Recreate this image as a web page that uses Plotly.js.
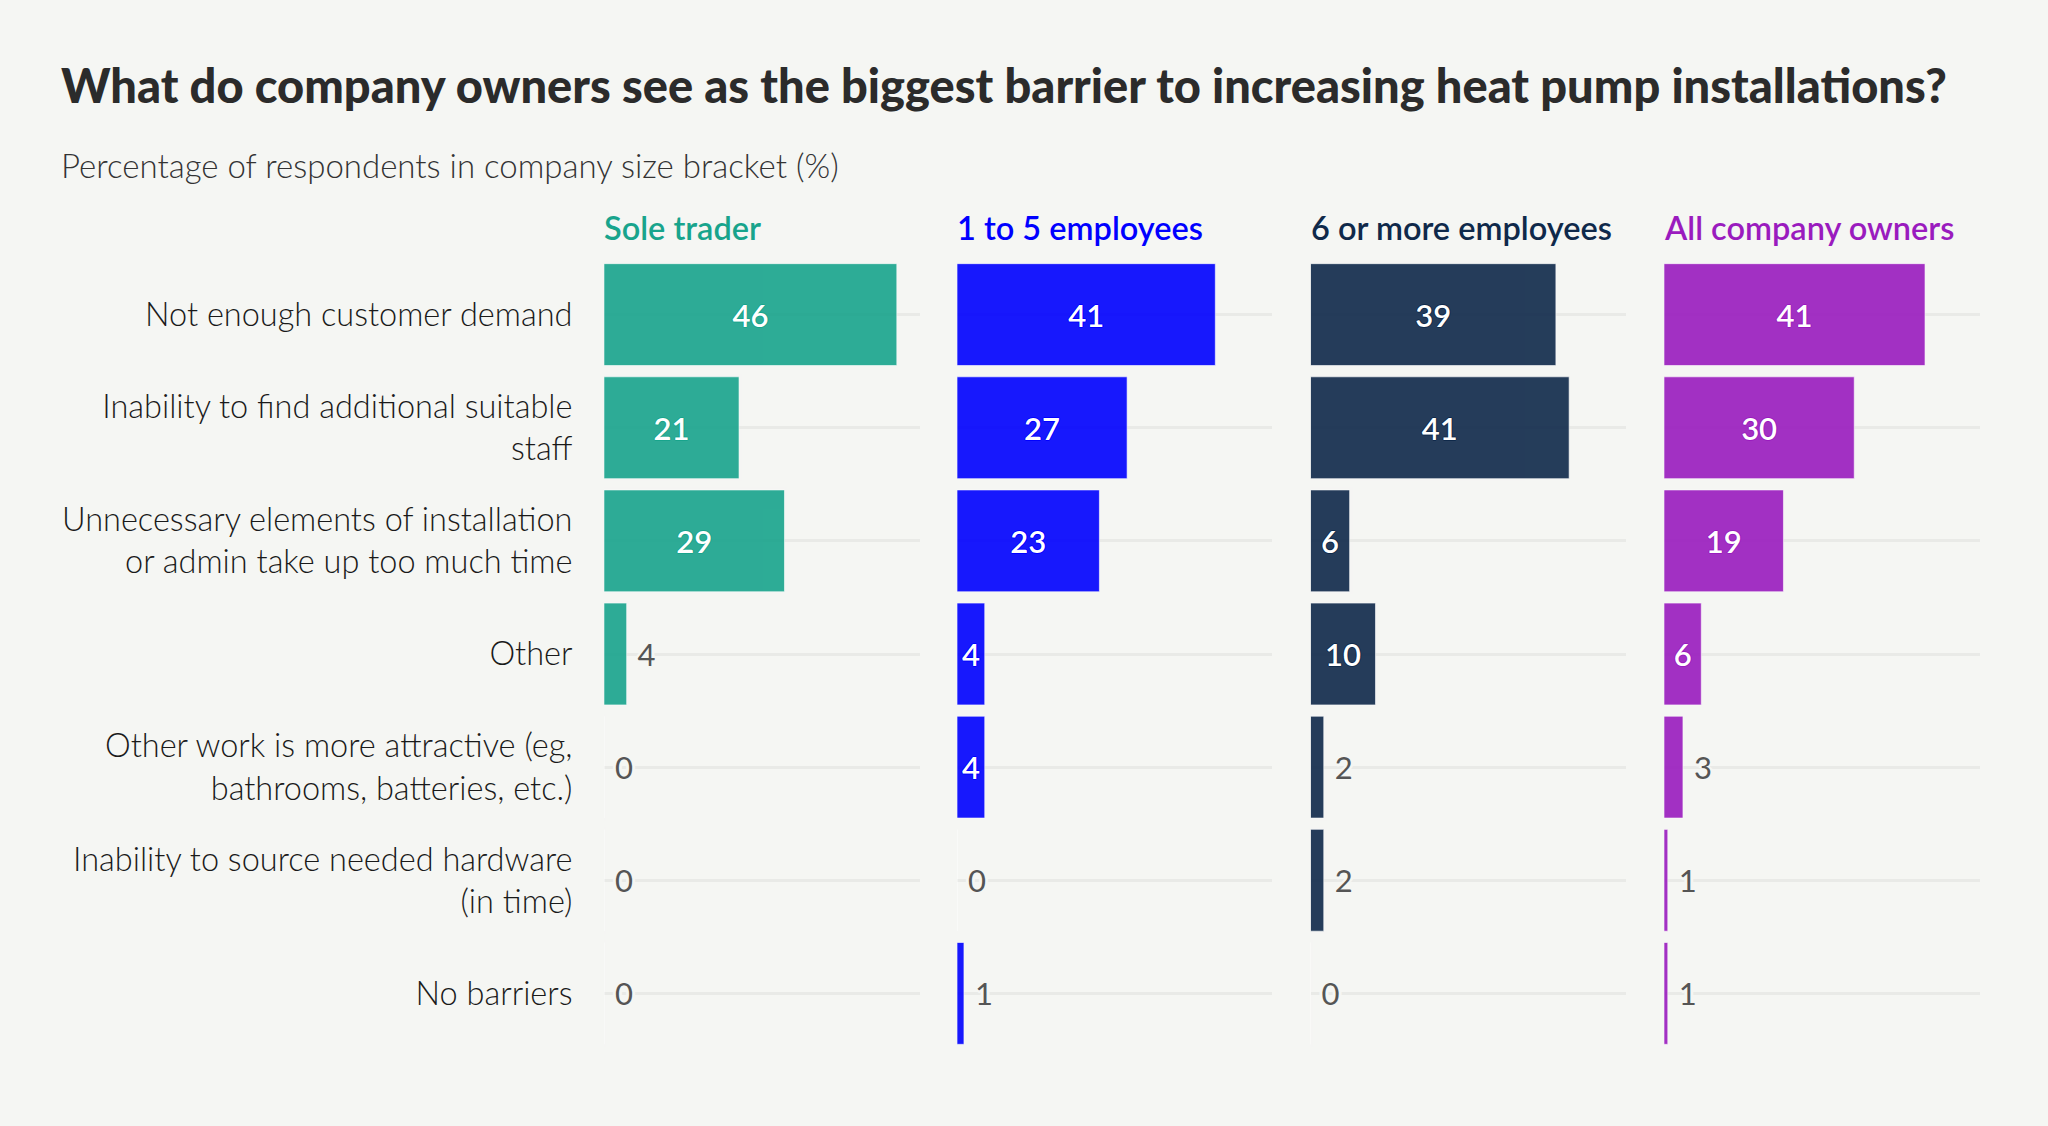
<!DOCTYPE html>
<html>
<head>
<meta charset="utf-8">
<script src="https://cdn.plot.ly/plotly-3.0.1.min.js"></script>
<style>
  html, body { margin: 0; padding: 0; background: #f5f6f3; }
  #chart { width: 2048px; height: 1126px; }
</style>
</head>
<body>
<div id="chart"></div>
<script>
const categories = [
  'Not enough customer demand',
  'Inability to find additional suitable<br>staff',
  'Unnecessary elements of installation<br>or admin take up too much time',
  'Other',
  'Other work is more attractive (eg,<br>bathrooms, batteries, etc.)',
  'Inability to source needed hardware<br>(in time)',
  'No barriers'
];

const groups = ['Sole trader', '1 to 5 employees', '6 or more employees', 'All company owners'];

const soleTrader = [46.4, 21.4, 28.6, 3.6, 0, 0, 0];
const oneToFive = [41.0, 27.0, 22.6, 4.4, 4.4, 0, 1.1];
const sixOrMore = [38.9, 41.0, 6.2, 10.3, 2.1, 2.1, 0];
const allOwners = [41.3, 30.1, 18.9, 5.9, 3.0, 0.6, 0.6];

const series = [soleTrader, oneToFive, sixOrMore, allOwners];
const colors = ['#18A48C', '#0000FF', '#0F294A', '#9A1BBE'];

const bg = '#f5f6f3';
const domains = [[0.2949, 0.4490], [0.4673, 0.6211], [0.6399, 0.7939], [0.8125, 0.9668]];

function outline(c, d) {
  return `${d}px 0 0 ${c}, -${d}px 0 0 ${c}, 0 ${d}px 0 ${c}, 0 -${d}px 0 ${c}`;
}

const traces = series.map((vals, i) => ({
  type: 'bar',
  orientation: 'h',
  y: categories,
  x: vals,
  xaxis: i === 0 ? 'x' : 'x' + (i + 1),
  yaxis: i === 0 ? 'y' : 'y' + (i + 1),
  marker: {
    color: colors[i],
    opacity: 0.9,
    line: {width: 1, color: 'rgba(255,255,255,0.6)'}
  },
  texttemplate: vals.map(v => v >= 4 ? '%{x:.0f}' : '\u00a0%{x:.0f}'),
  textposition: vals.map(v => v >= 4 ? 'inside' : 'outside'),
  insidetextanchor: 'middle',
  constraintext: 'none',
  cliponaxis: false,
  insidetextfont: {family: 'Lato, sans-serif', size: 31, color: '#ffffff', weight: 600,
    shadow: outline(colors[i], 1)},
  outsidetextfont: {family: 'Lato, sans-serif', size: 31, color: '#555555',
    shadow: outline(bg, 3)},
  hoverinfo: 'none'
}));

const layout = {
  width: 2048,
  height: 1126,
  paper_bgcolor: bg,
  plot_bgcolor: bg,
  margin: {l: 0, r: 0, t: 258, b: 76},
  showlegend: false,
  bargap: 0.1,
  font: {family: 'Lato, sans-serif', color: '#1a1a1a'},
  title: {
    text: 'What do company owners see as the biggest barrier to increasing heat pump installations?',
    xref: 'container', yref: 'container',
    x: 61 / 2048, xanchor: 'left',
    y: 1 - 87 / 1126, yanchor: 'middle',
    font: {family: 'Lato, sans-serif', size: 47, weight: 900, color: '#2b2b2b'}
  },
  annotations: [{
    text: 'Percentage of respondents in company size bracket (%)',
    xref: 'paper', yref: 'paper',
    x: 59 / 2048, xanchor: 'left',
    y: 1 + (258 - 165) / 792, yanchor: 'middle',
    showarrow: false,
    font: {family: 'Lato, sans-serif', size: 33, weight: 300, color: '#333333'}
  }].concat(groups.map((g, i) => ({
    text: g,
    xref: 'paper', yref: 'paper',
    x: domains[i][0] - 2 / 2048, xanchor: 'left',
    y: 1 + (258 - 227) / 792, yanchor: 'middle',
    showarrow: false,
    font: {family: 'Lato, sans-serif', size: 32.5, weight: 600, color: colors[i]}
  })))
};

series.forEach((vals, i) => {
  const xk = i === 0 ? 'xaxis' : 'xaxis' + (i + 1);
  const yk = i === 0 ? 'yaxis' : 'yaxis' + (i + 1);
  layout[xk] = {
    domain: domains[i],
    range: [0, 50],
    anchor: i === 0 ? 'y' : 'y' + (i + 1),
    showgrid: false,
    zeroline: false,
    showticklabels: false,
    ticks: '',
    fixedrange: true
  };
  layout[yk] = {
    anchor: i === 0 ? 'x' : 'x' + (i + 1),
    autorange: 'reversed',
    type: 'category',
    showgrid: true,
    gridcolor: '#e9eae7',
    gridwidth: 3,
    zeroline: false,
    showline: false,
    showticklabels: i === 0,
    ticks: i === 0 ? 'outside' : '',
    ticklen: 24,
    tickcolor: 'rgba(0,0,0,0)',
    tickfont: {family: 'Lato, sans-serif', size: 32.5, weight: 300, color: '#1a1a1a'},
    fixedrange: true
  };
});

Plotly.newPlot('chart', traces, layout, {staticPlot: true, displayModeBar: false});
</script>
</body>
</html>
